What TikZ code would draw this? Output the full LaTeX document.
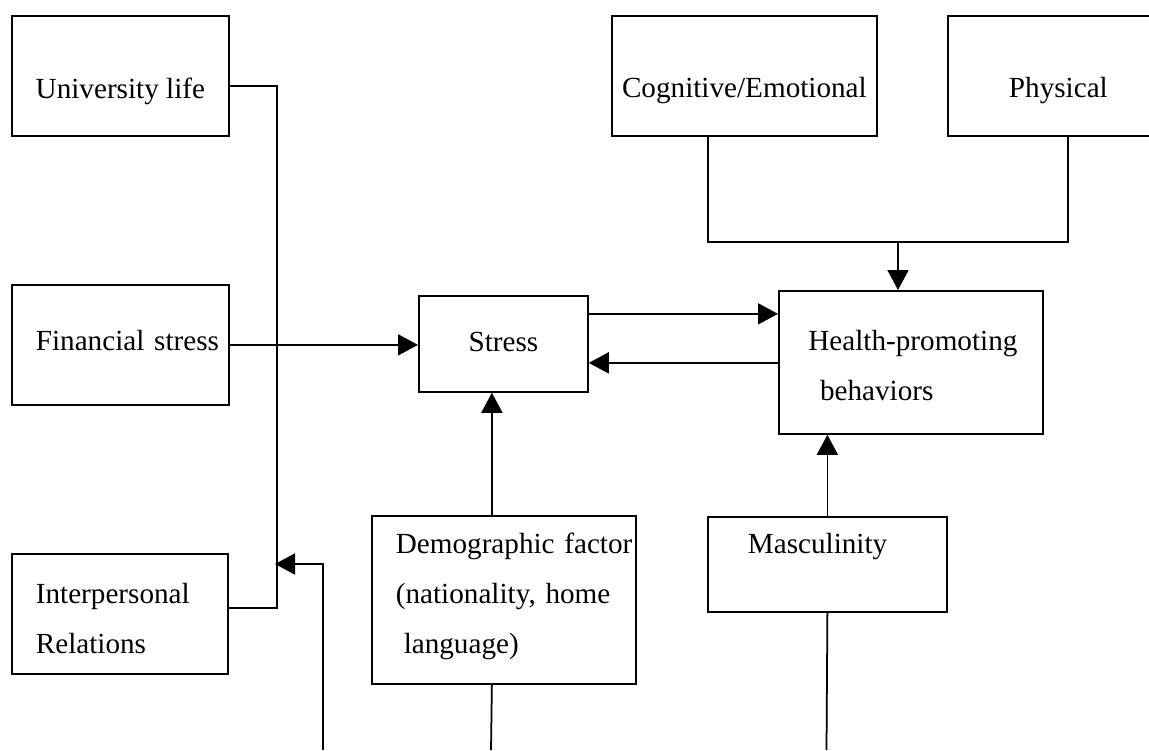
\documentclass[tikz,border=0pt]{standalone}
\usepackage{fontspec}
\setmainfont{Liberation Serif}
\usetikzlibrary{arrows.meta}

\begin{document}
\begin{tikzpicture}[
    factor/.style={rectangle, draw, line width=1pt, anchor=north west, inner xsep=0pt, inner ysep=0pt, font=\fontsize{16.6}{28.2}\selectfont},
    hd/.style 2 args={text height=#1, text depth=#2},
    lines/.style={text width=#1, align=left},
    arrow/.style={-{Triangle[length=4mm, width=4.2mm]}, line width=1pt},
    link/.style={line width=1pt}
]
\useasboundingbox (0,0) rectangle (22.98,-15);

% stressors
\node[factor, minimum width=4.34cm, hd={1.66cm}{0.74cm}] (uni) at (0.22,-0.30) {University life};
\node[factor, minimum width=4.34cm, hd={1.32cm}{1.08cm}, lines=3.38cm] (fin) at (0.22,-5.68) {\mbox{Financial stress}};
\node[factor, minimum width=4.32cm, hd={1.0cm}{1.4cm}, lines=3.36cm] (inter) at (0.22,-11.06) {Interpersonal\\Relations};

% core
\node[factor, minimum width=3.38cm, hd={1.12cm}{0.80cm}] (stress) at (8.36,-5.90) {Stress};
\node[factor, minimum width=5.28cm, hd={1.2cm}{1.66cm}, lines=4.1cm] (health) at (15.56,-5.80) {\mbox{Health-promoting}\\\hspace*{.4em}behaviors};

% top factors
\node[factor, minimum width=5.30cm, hd={1.64cm}{0.76cm}] (cog) at (12.22,-0.30) {Cognitive/Emotional};
\node[factor, minimum width=4.42cm, hd={1.64cm}{0.76cm}] (phys) at (18.94,-0.30) {Physical};

% bottom factors
\node[factor, minimum width=5.28cm, hd={0.76cm}{2.60cm}, lines=4.32cm] (demo) at (7.42,-10.30) {\mbox{Demographic factor}\\\mbox{(nationality, home}\\\hspace*{.27em}language)};
\node[factor, minimum width=4.78cm, hd={0.74cm}{1.16cm}, lines=3.18cm] (masc) at (14.14,-10.32) {Masculinity};

\draw[link] ([yshift=-2mm]uni.east) -- ++(0.94,0) |- ([yshift=1.2mm]inter.east);
\draw[arrow] (fin.east) -- (fin.east -| stress.west);
\draw[arrow] ([yshift=6mm]stress.east) -- ([yshift=6mm]stress.east -| health.west);
\draw[arrow] ([yshift=-3.8mm]stress.east -| health.west) -- ([yshift=-3.8mm]stress.east);
\draw[arrow] ([xshift=-2.4mm]demo.north) -- ([xshift=-2.4mm]demo.north |- stress.south);
\draw[arrow] (masc.north) -- (masc.north |- health.south);

\coordinate (join) at (17.96,-4.84);
\draw[link] ([xshift=-7.3mm]cog.south) |- (join) -| ([xshift=1.9mm]phys.south);
\draw[arrow] (join) -- (join |- health.north);

% lines leaving the page
\coordinate (spinein) at (5.5,-11.28);
\coordinate (feedback) at (6.46,-15);
\coordinate (demoend) at (9.82,-15);
\coordinate (mascend) at (16.53,-15);
\draw[arrow] (feedback) |- (spinein);
\draw[link] ([xshift=-2.4mm]demo.south) -- (demoend);
\draw[link] (masc.south) -- (mascend);
\end{tikzpicture}
\end{document}
